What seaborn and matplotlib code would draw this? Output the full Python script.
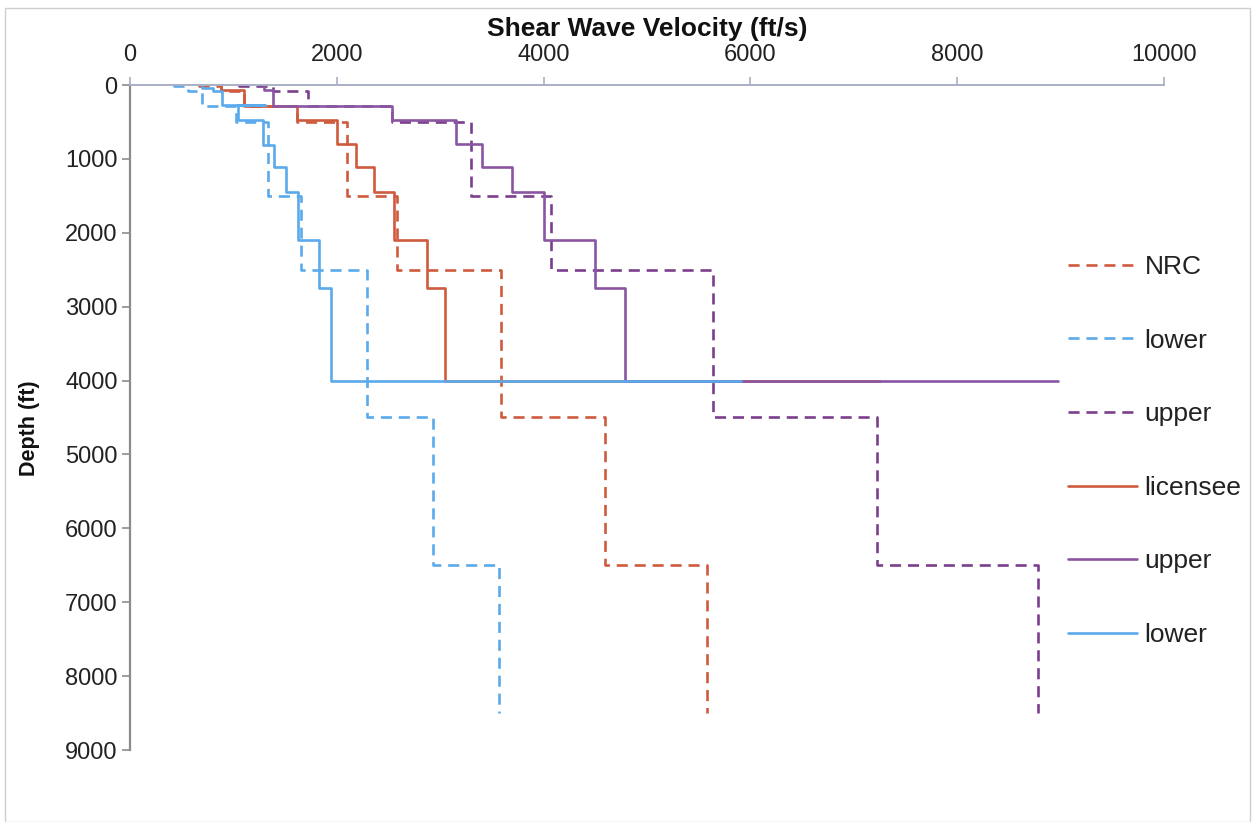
import numpy as np
import pandas as pd
import matplotlib
matplotlib.use("Agg")
import matplotlib.pyplot as plt
import seaborn as sns
from matplotlib.patches import Rectangle

# ---------------- data ----------------
# Dashed "NRC" family: layer boundaries (ft) and layer velocities (ft/s)
nrc_depth = [0, 15, 80, 280, 500, 1500, 2500, 4500, 6500, 8500]
nrc_vel = [670, 880, 1100, 1613, 2103, 2587, 3585, 4589, 5585]
nrc_lower_vel = [430, 560, 700, 1027, 1330, 1650, 2290, 2928, 3565]
nrc_upper_vel = [1050, 1380, 1717, 2537, 3300, 4068, 5641, 7227, 8780]

# Solid "licensee" family
lic_depth = [0, 68, 280, 480, 800, 1114, 1450, 2097, 2751, 4000]
lic_vel = [880, 1100, 1613, 2000, 2184, 2361, 2554, 2870, 3048]
lic_halfspace = 7250

lic_upper_depth = [0, 68, 280, 480, 800, 1114, 1450, 2097, 2751, 4000]
lic_upper_vel = [1300, 1385, 2537, 3150, 3407, 3697, 4003, 4498, 4787]
lic_upper_halfspace = 8976

lic_lower_depth = [0, 40, 80, 270, 275, 470, 812, 1114, 1443, 2097, 2751, 4000]
lic_lower_vel = [700, 800, 890, 1310, 1040, 1282, 1395, 1507, 1625, 1825, 1940]
lic_lower_halfspace = 5913

labels = ["NRC", "lower", "upper", "licensee", "upper", "lower"]

x_ticks = [0, 2000, 4000, 6000, 8000, 10000]
y_ticks = [0, 1000, 2000, 3000, 4000, 5000, 6000, 7000, 8000, 9000]


def step_profile(depths, vels, halfspace=None):
    xs, ys = [], []
    for i, v in enumerate(vels):
        xs += [v, v]
        ys += [depths[i], depths[i + 1]]
    if halfspace is not None:
        xs.append(halfspace)
        ys.append(depths[-1])
    return pd.DataFrame({"vel": xs, "depth": ys})


RED = "#CF5A3E"
BLUE = "#5AAAEC"
PURPLE = "#8A55A2"
PURPLE_D = "#7C3F8E"

series = [
    (step_profile(nrc_depth, nrc_vel), RED, "--", labels[0]),
    (step_profile(nrc_depth, nrc_lower_vel), BLUE, "--", labels[1]),
    (step_profile(nrc_depth, nrc_upper_vel), PURPLE_D, "--", labels[2]),
    (step_profile(lic_depth, lic_vel, lic_halfspace), RED, "-", labels[3]),
    (step_profile(lic_upper_depth, lic_upper_vel, lic_upper_halfspace), PURPLE, "-", labels[4]),
    (step_profile(lic_lower_depth, lic_lower_vel, lic_lower_halfspace), BLUE, "-", labels[5]),
]

sns.set_theme(style="white")
plt.rcParams["font.family"] = ["Liberation Sans", "DejaVu Sans"]

W, H = 1255, 822
fig = plt.figure(figsize=(W / 100, H / 100), dpi=100)
ax = fig.add_axes([130 / W, 1 - 750 / H, (1164 - 130) / W, (750 - 85) / H])

handles = []
for df, color, ls, lab in series:
    sns.lineplot(data=df, x="vel", y="depth", sort=False, estimator=None,
                 ax=ax, color=color, linewidth=1.9, legend=False)
    ln = ax.get_lines()[-1]
    ln.set_label(lab)
    if ls == "--":
        ln.set_dashes((4.2, 2.6))
    handles.append(ln)

ax.set_xlim(0, 10000)
ax.set_ylim(9000, 0)
ax.set_xticks(x_ticks)
ax.set_yticks(y_ticks)
ax.xaxis.tick_top()
ax.xaxis.set_label_position("top")
ax.set_xlabel("Shear Wave Velocity (ft/s)", fontsize=19, fontweight="bold", labelpad=6, color="#111111")
ax.set_ylabel("Depth (ft)", fontsize=15.5, fontweight="bold", color="#111111")
ax.yaxis.set_label_coords(-0.087, 0.484)
ax.tick_params(axis="x", which="both", top=True, bottom=False, direction="out", length=6,
               width=1.2, color="#A9AFC6", labelsize=17, pad=7.5, labelcolor="#222222")
ax.tick_params(axis="y", which="both", left=True, direction="out", length=6,
               width=1.2, color="#8C8C8C", labelsize=17, pad=3, labelcolor="#222222")

for s in ["right", "bottom"]:
    ax.spines[s].set_visible(False)
ax.spines["top"].set_color("#A9AFC6")
ax.spines["top"].set_linewidth(1.4)
ax.spines["left"].set_color("#8C8C8C")
ax.spines["left"].set_linewidth(1.6)
ax.grid(False)

leg = fig.legend(handles, labels, loc="center left", bbox_to_anchor=(1068 / W, 1 - 451 / H),
                 bbox_transform=fig.transFigure, frameon=False, fontsize=19,
                 handlelength=2.6, handletextpad=0.3, labelspacing=1.88,
                 borderpad=0, borderaxespad=0)
for t in leg.get_texts():
    t.set_color("#222222")

# chart-area border
fig.add_artist(Rectangle((5 / W, 0), 1 - 10 / W, 1 - 8 / H, transform=fig.transFigure,
                         fill=False, edgecolor="#CFCFCF", linewidth=1.0))

fig.savefig("out.png", dpi=100, facecolor="white")
